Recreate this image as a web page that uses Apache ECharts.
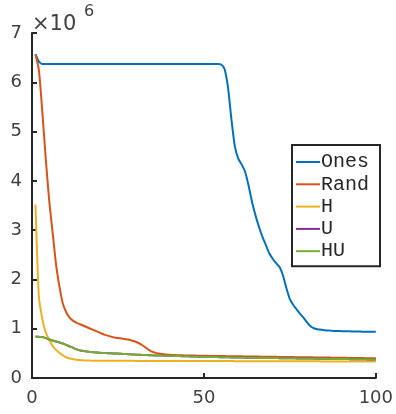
<!DOCTYPE html>
<html>
<head>
<meta charset="utf-8">
<script src="https://cdn.jsdelivr.net/npm/echarts@6/dist/echarts.min.js"></script>
<style>html,body{margin:0;padding:0;background:#fff;}#c{width:396px;height:414px;}</style>
</head>
<body>
<div id="c"></div>
<script>
// values in units of 1e6
var seriesNames = ['Ones', 'Rand', 'H', 'U', 'HU'];
var xTicks = [0, 50, 100];
var yTicks = [0, 1, 2, 3, 4, 5, 6, 7];

var ones = [6.57,6.42,6.37,6.37,6.37,6.37,6.37,6.37,6.37,6.37,
  6.37,6.37,6.37,6.37,6.37,6.37,6.37,6.37,6.37,6.37,
  6.37,6.37,6.37,6.37,6.37,6.37,6.37,6.37,6.37,6.37,
  6.37,6.37,6.37,6.37,6.37,6.37,6.37,6.37,6.37,6.37,
  6.37,6.37,6.37,6.37,6.37,6.37,6.37,6.37,6.37,6.37,
  6.37,6.37,6.37,6.37,6.36,6.27,5.9,5.25,4.7,4.45,
  4.33,4.18,3.9,3.57,3.3,3.07,2.87,2.7,2.53,2.42,
  2.33,2.25,2.08,1.82,1.6,1.48,1.39,1.3,1.22,1.13,
  1.05,1.01,0.99,0.98,0.97,0.965,0.96,0.955,0.955,0.95,
  0.95,0.95,0.945,0.945,0.945,0.94,0.94,0.94,0.94,0.94];

var rand = [6.57,6.25,5.4,4.45,3.6,2.95,2.3,1.85,1.5,1.33,
  1.22,1.16,1.12,1.09,1.06,1.03,1.0,0.97,0.94,0.91,
  0.88,0.86,0.84,0.82,0.81,0.80,0.79,0.78,0.76,0.74,
  0.71,0.67,0.62,0.57,0.53,0.51,0.495,0.485,0.475,0.47,
  0.468,0.465,0.463,0.46,0.458,0.456,0.455,0.453,0.452,0.45,
  0.449,0.448,0.447,0.446,0.445,0.444,0.443,0.442,0.441,0.44,
  0.439,0.438,0.437,0.436,0.435,0.434,0.433,0.432,0.431,0.43,
  0.429,0.428,0.427,0.426,0.425,0.424,0.423,0.422,0.421,0.42,
  0.419,0.418,0.417,0.416,0.415,0.414,0.413,0.412,0.411,0.41,
  0.409,0.408,0.407,0.406,0.405,0.404,0.403,0.402,0.401,0.40];

var hVals = [3.52,1.65,1.2,0.92,0.78,0.65,0.57,0.51,0.46,0.42,
  0.395,0.38,0.37,0.362,0.358,0.355,0.353,0.352,0.351,0.35,
  0.35,0.35,0.349,0.349,0.349,0.348,0.348,0.348,0.348,0.347,
  0.347,0.347,0.347,0.347,0.346,0.346,0.346,0.346,0.346,0.346,
  0.345,0.345,0.345,0.345,0.345,0.345,0.345,0.345,0.344,0.344,
  0.344,0.344,0.344,0.343,0.343,0.343,0.343,0.343,0.342,0.342,
  0.342,0.342,0.342,0.341,0.341,0.341,0.341,0.341,0.34,0.34,
  0.34,0.34,0.34,0.339,0.339,0.339,0.339,0.339,0.338,0.338,
  0.338,0.338,0.338,0.337,0.337,0.337,0.337,0.337,0.336,0.336,
  0.336,0.336,0.336,0.335,0.335,0.335,0.335,0.335,0.335,0.335];

var uVals = [0.84,0.835,0.83,0.81,0.78,0.76,0.74,0.72,0.70,0.67,
  0.64,0.61,0.58,0.56,0.55,0.54,0.53,0.52,0.515,0.51,
  0.507,0.504,0.501,0.498,0.495,0.491,0.487,0.483,0.479,0.475,
  0.472,0.469,0.466,0.463,0.46,0.458,0.456,0.454,0.452,0.45,
  0.448,0.446,0.444,0.442,0.44,0.438,0.436,0.434,0.432,0.43,
  0.428,0.427,0.425,0.424,0.422,0.421,0.42,0.418,0.417,0.415,
  0.414,0.413,0.412,0.411,0.41,0.409,0.408,0.407,0.406,0.405,
  0.404,0.403,0.402,0.401,0.4,0.399,0.398,0.397,0.396,0.395,
  0.394,0.393,0.392,0.391,0.39,0.389,0.388,0.387,0.386,0.385,
  0.384,0.383,0.382,0.381,0.38,0.379,0.378,0.377,0.376,0.375];

var huVals = [0.84,0.835,0.83,0.81,0.78,0.76,0.74,0.72,0.70,0.67,
  0.64,0.61,0.58,0.56,0.55,0.54,0.53,0.52,0.515,0.51,
  0.507,0.504,0.501,0.498,0.495,0.491,0.487,0.483,0.479,0.475,
  0.472,0.469,0.466,0.463,0.46,0.458,0.456,0.454,0.452,0.45,
  0.448,0.446,0.444,0.442,0.44,0.438,0.436,0.434,0.432,0.43,
  0.428,0.427,0.425,0.424,0.422,0.421,0.42,0.418,0.417,0.415,
  0.414,0.413,0.412,0.411,0.41,0.409,0.408,0.407,0.406,0.405,
  0.404,0.403,0.402,0.401,0.4,0.399,0.398,0.397,0.396,0.395,
  0.394,0.393,0.392,0.391,0.39,0.389,0.388,0.387,0.386,0.385,
  0.384,0.383,0.382,0.381,0.38,0.379,0.378,0.377,0.376,0.375];

var colors = ['#0072BD', '#D95319', '#EDB120', '#7E2F8E', '#77AC30'];
var allVals = [ones, rand, hVals, uVals, huVals];

function pairs(vals) {
  var out = [];
  for (var i = 0; i < vals.length; i++) out.push([i + 1, vals[i]]);
  return out;
}

var axisCol = '#262626';
var labelFont = { fontFamily: 'DejaVu Sans', fontSize: 18, color: '#404040' };

var chart = echarts.init(document.getElementById('c'), null, { renderer: 'canvas' });
chart.setOption({
  animation: false,
  backgroundColor: '#ffffff',
  grid: { left: 32, right: 19, top: 33, bottom: 36, containLabel: false },
  xAxis: {
    type: 'value', min: xTicks[0], max: xTicks[xTicks.length - 1], interval: 50,
    axisLine: { show: true, lineStyle: { color: axisCol, width: 2 } },
    axisTick: { show: true, inside: true, length: 5, lineStyle: { color: axisCol, width: 2 } },
    splitLine: { show: false },
    axisLabel: Object.assign({ margin: 11 }, labelFont)
  },
  yAxis: {
    type: 'value', min: yTicks[0], max: yTicks[yTicks.length - 1], interval: 1,
    axisLine: { show: true, lineStyle: { color: axisCol, width: 2 } },
    axisTick: { show: true, inside: true, length: 5, lineStyle: { color: axisCol, width: 2 } },
    splitLine: { show: false },
    axisLabel: Object.assign({ margin: 10 }, labelFont)
  },
  legend: {
    orient: 'vertical',
    left: 292, top: 145,
    data: seriesNames,
    icon: 'rect',
    itemWidth: 24, itemHeight: 2,
    itemGap: 0.3,
    padding: [6, 11, 4, 4],
    borderColor: axisCol, borderWidth: 2,
    backgroundColor: '#ffffff',
    textStyle: { fontFamily: 'Liberation Mono', fontSize: 20, color: '#262626', lineHeight: 22, padding: [0, 0, 0, -4] }
  },
  graphic: [{
    type: 'text', left: 32, top: 14,
    style: { text: '\u00d710', fontFamily: 'DejaVu Sans', fontSize: 21, fill: '#404040' }
  }, {
    type: 'text', left: 84, top: 4,
    style: { text: '6', fontFamily: 'DejaVu Sans', fontSize: 16, fill: '#404040' }
  }],
  series: seriesNames.map(function (n, i) {
    return {
      name: n, type: 'line', data: pairs(allVals[i]),
      showSymbol: false, symbol: 'none',
      smooth: 0.2,
      lineStyle: { color: colors[i], width: 2 },
      itemStyle: { color: colors[i] },
      z: 2 + i
    };
  })
});
</script>
</body>
</html>
